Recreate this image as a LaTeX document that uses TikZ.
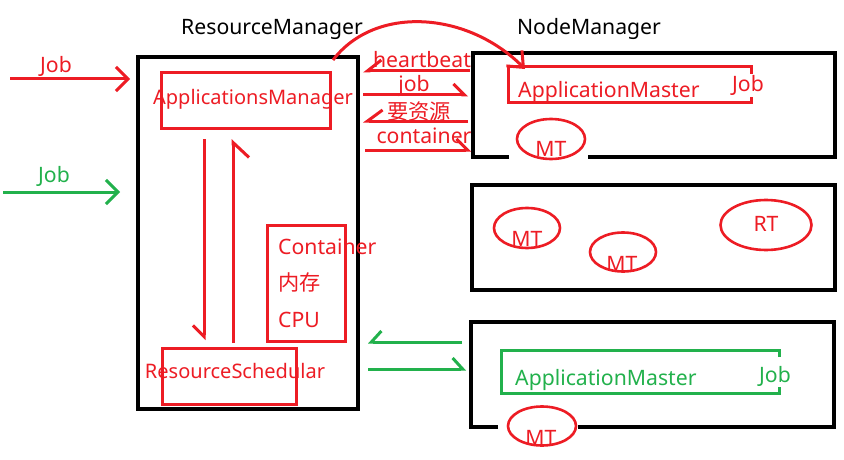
\documentclass[tikz,border=0pt]{standalone}
\usepackage{fontspec}
\setmainfont{Noto Sans}
\newfontfamily\cjk{Noto Sans CJK SC}
\usetikzlibrary{arrows.meta,shapes.geometric,calc}
\definecolor{pred}{HTML}{ED1C24}
\definecolor{pgreen}{HTML}{22B14C}
\begin{document}
\begin{tikzpicture}[x=1pt,y=-1pt,
  blk/.style={draw=black,line width=3.3pt},
  rl/.style={draw=pred,line width=3pt},
  gl/.style={draw=pgreen,line width=3pt},
  rbox/.style={rl,rectangle,inner sep=0},
  txt/.style={inner sep=0,font=\fontsize{21.2}{25}\selectfont},
  rtxt/.style={txt,text=pred},
  gtxt/.style={txt,text=pgreen},
  smalltxt/.style={font=\fontsize{20}{24}\selectfont},
  ell/.style={draw=pred,line width=2.6pt,ellipse,inner sep=0},
  fullhead/.style={-{Straight Barb[length=12pt,width=24pt]}},
  harpL/.style={-{Straight Barb[harpoon,length=#1,width=22pt]}},
  harpR/.style={-{Straight Barb[harpoon,swap,length=#1,width=22pt]}}
]
\useasboundingbox (0,0) rectangle (844,460);
\fill[white] (0,0) rectangle (844,460);

% titles
\node[txt,anchor=base] (rmt) at (272,35) {ResourceManager};
\node[txt,anchor=base] (nmt) at (589,35) {NodeManager};

% ResourceManager
\node[blk,rectangle,minimum width=220pt,minimum height=352pt] (rm) at (248,233) {};
\node[rbox,minimum width=169pt,minimum height=55pt] (am) at (245.5,100.5) {};
\node[rtxt,smalltxt,anchor=base] (amt) at (253,104) {ApplicationsManager};
\node[rbox,minimum width=134pt,minimum height=56pt] (rs) at (229,376) {};
\node[rtxt,smalltxt,anchor=base] (rst) at (235,378) {ResourceSchedular};
\node[rbox,minimum width=78pt,minimum height=116pt] (ct) at (306,283) {};
\node[rtxt,anchor=base west] (ct1) at (278,254) {Container};
\node[rtxt,anchor=base west] (ct2) at (278,290) {\cjk 内存};
\node[rtxt,anchor=base west] (ct3) at (278,327) {CPU};

\coordinate (d1) at (204,139); \coordinate (d2) at (204,340);
\coordinate (u1) at (233,343); \coordinate (u2) at (233,139);
\draw[rl,harpR=11pt] (d1) -- (d2);
\draw[rl,-{Straight Barb[harpoon,swap,length=15pt,width=32pt]}] (u1) -- (u2);

% incoming jobs
\coordinate (j1a) at (10,79); \coordinate (j1b) at (130,79);
\coordinate (j2a) at (3,192); \coordinate (j2b) at (120,192);
\draw[rl,fullhead] (j1a) -- (j1b);
\draw[gl,fullhead] (j2a) -- (j2b);
\node[rtxt,anchor=base] (jt1) at (56,73) {Job};
\node[gtxt,anchor=base] (jt2) at (54,182) {Job};

% NodeManager 1
\draw[blk] (509,157) -- (473,157) -- (473,53) -- (835,53) -- (835,157) -- (588,157);
\draw[rl] (751,74) -- (751,67) -- (508,67) -- (508,103) -- (751,103) -- (751,97);
\node[rtxt,anchor=base west] (am1) at (518,97) {ApplicationMaster};
\node[rtxt,anchor=base] (job1) at (748,92) {Job};
\node[ell,minimum width=68pt,minimum height=40pt] (mt1) at (551,139) {};
\node[rtxt,anchor=base] (mt1t) at (551,157) {MT};

% NodeManager 2
\node[blk,rectangle,minimum width=363pt,minimum height=105pt] (nm2) at (653.5,237.5) {};
\node[ell,minimum width=66pt,minimum height=40pt] (mt2) at (527,228) {};
\node[rtxt,anchor=base] (mt2t) at (527,246) {MT};
\node[ell,minimum width=66pt,minimum height=39pt] (mt3) at (623,252) {};
\node[rtxt,anchor=base] (mt3t) at (622,271) {MT};
\node[ell,minimum width=91pt,minimum height=50pt] (rt) at (766,225) {};
\node[rtxt,anchor=base] (rtt) at (766,231) {RT};

% NodeManager 3
\draw[blk] (498,427) -- (471,427) -- (471,322) -- (834,322) -- (834,427) -- (578,427);
\draw[gl] (779,357) -- (779,350) -- (501,350) -- (501,393) -- (779,393) -- (779,387);
\node[gtxt,anchor=base west] (am3) at (515,385) {ApplicationMaster};
\node[gtxt,anchor=base] (job3) at (775,382) {Job};
\node[ell,minimum width=68pt,minimum height=39pt] (mt4) at (542,426) {};
\node[rtxt,anchor=base] (mt4t) at (541,445) {MT};

% messages RM <-> NM1
\coordinate (h1) at (470,71); \coordinate (h2) at (363,71);
\coordinate (jb1) at (363,95); \coordinate (jb2) at (468,95);
\coordinate (y1) at (468,121); \coordinate (y2) at (363,121);
\coordinate (c1) at (365,150); \coordinate (c2) at (471,150);
\draw[rl,harpR=14pt] (h1) -- (h2);
\draw[rl,harpL=11pt] (jb1) -- (jb2);
\draw[rl,harpR=15pt] (y1) -- (y2);
\draw[rl,harpL=11pt] (c1) -- (c2);
\node[rtxt,anchor=base] (hb) at (422,68) {heartbeat};
\node[rtxt,anchor=base] (jbt) at (414,92) {job};
\node[rtxt,anchor=base] (yt) at (419,119) {\cjk 要资源};
\node[rtxt,anchor=base] (cnt) at (424,143) {container};

% curved arrow RM -> ApplicationMaster
\coordinate (cv1) at (333,60); \coordinate (cv2) at (525,69);
\draw[rl,-{Straight Barb[length=13pt,width=22pt]}] (cv1) .. controls (375,5) and (467,11) .. (cv2);

% messages RM <-> NM3
\coordinate (g1) at (462,342); \coordinate (g2) at (368,342);
\coordinate (g3) at (368,369); \coordinate (g4) at (466,369);
\draw[gl,harpR=10pt] (g1) -- (g2);
\draw[gl,harpL=10pt] (g3) -- (g4);
\end{tikzpicture}
\end{document}
